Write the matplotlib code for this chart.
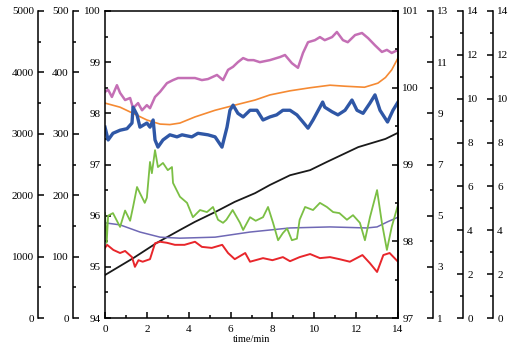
import matplotlib
matplotlib.use("Agg")
import matplotlib.pyplot as plt
from matplotlib.ticker import MultipleLocator

plt.rcParams['font.family'] = ['Liberation Serif', 'DejaVu Serif']
plt.rcParams['font.size'] = 8

# ---- data (time in min, values in main-axis units 94-100) ----
pink_t = [0, 0.15, 0.33, 0.57, 0.72, 0.96, 1.2, 1.34, 1.58, 1.77, 2.0, 2.15, 2.39, 2.63, 2.96, 3.25, 3.49, 3.97, 4.3, 4.63,
          4.92, 5.35, 5.64, 5.88, 6.12, 6.35, 6.6, 6.83, 7.1, 7.4, 7.88, 8.36, 8.6, 8.93, 9.22, 9.46, 9.7, 10.03, 10.27, 10.5,
          10.85, 11.08, 11.37, 11.6, 11.95, 12.28, 12.57, 12.9, 13.23, 13.47, 13.7, 14]
pink_v = [98.42, 98.46, 98.32, 98.55, 98.40, 98.26, 98.30, 98.10, 98.20, 98.06, 98.16, 98.10, 98.32, 98.42, 98.59, 98.65, 98.69, 98.69, 98.69, 98.65,
          98.67, 98.75, 98.65, 98.85, 98.91, 99.00, 99.08, 99.04, 99.04, 99.00, 99.04, 99.10, 99.14, 98.98, 98.89, 99.18, 99.39, 99.43, 99.49, 99.43,
          99.49, 99.59, 99.43, 99.39, 99.53, 99.57, 99.47, 99.33, 99.20, 99.24, 99.18, 99.24]

blue_t = [0, 0.15, 0.38, 0.72, 1.05, 1.29, 1.34, 1.53, 1.67, 2.0, 2.15, 2.3, 2.39, 2.53, 2.77, 3.1, 3.44, 3.68, 4.15, 4.44,
          4.92, 5.26, 5.59, 5.83, 5.97, 6.12, 6.35, 6.6, 6.93, 7.26, 7.55, 7.88, 8.2, 8.5, 8.84, 9.17, 9.46, 9.7, 9.94, 10.27,
          10.4, 10.5, 10.85, 11.13, 11.47, 11.8, 12.04, 12.33, 12.66, 12.9, 13.14, 13.5, 13.76, 14]
blue_v = [97.73, 97.48, 97.61, 97.67, 97.70, 97.81, 98.12, 97.97, 97.73, 97.81, 97.73, 97.87, 97.48, 97.34, 97.48, 97.58, 97.54, 97.58, 97.54, 97.61,
          97.58, 97.54, 97.34, 97.73, 98.06, 98.16, 98.00, 97.93, 98.06, 98.06, 97.87, 97.93, 97.97, 98.06, 98.06, 97.97, 97.83, 97.71, 97.87, 98.12,
          98.22, 98.12, 98.03, 97.97, 98.06, 98.26, 98.06, 98.00, 98.20, 98.36, 98.06, 97.83, 98.06, 98.22]

green_t = [0, 0.08, 0.15, 0.38, 0.72, 0.96, 1.2, 1.34, 1.53, 1.67, 1.9, 2.0, 2.15, 2.24, 2.39, 2.53, 2.77, 3.0, 3.2, 3.25,
           3.58, 3.92, 4.2, 4.54, 4.87, 5.16, 5.4, 5.64, 5.8, 6.1, 6.45, 6.6, 6.93, 7.2, 7.55, 7.79, 8.03, 8.27, 8.5, 8.7,
           8.93, 9.17, 9.3, 9.56, 9.94, 10.27, 10.6, 10.9, 11.2, 11.56, 11.85, 12.18, 12.42, 12.66, 13.0, 13.23, 13.47, 13.7, 14]
green_v = [96.05, 95.47, 96.0, 96.05, 95.78, 96.10, 95.90, 96.17, 96.56, 96.44, 96.25, 96.35, 97.05, 96.83, 97.28, 96.95, 97.03, 96.89, 96.95, 96.64,
           96.37, 96.25, 95.97, 96.11, 96.07, 96.17, 95.92, 95.86, 95.92, 96.11, 95.86, 95.72, 95.97, 95.90, 95.97, 96.17, 95.86, 95.52, 95.66, 95.75,
           95.52, 95.55, 95.92, 96.17, 96.11, 96.25, 96.17, 96.07, 96.05, 95.92, 96.01, 95.86, 95.52, 95.97, 96.50, 95.86, 95.33, 95.78, 96.21]

red_t = [0, 0.1, 0.4, 0.72, 0.96, 1.29, 1.43, 1.6, 1.8, 2.15, 2.39, 2.63, 2.96, 3.34, 3.8, 4.3, 4.63, 5.1, 5.6, 5.88,
         6.2, 6.7, 6.93, 7.55, 8.0, 8.5, 8.84, 9.3, 9.8, 10.27, 10.75, 11.2, 11.7, 12.3, 12.66, 13.0, 13.3, 13.6, 14]
red_v = [95.37, 95.43, 95.33, 95.27, 95.31, 95.19, 95.00, 95.13, 95.10, 95.15, 95.46, 95.49, 95.47, 95.43, 95.43, 95.49, 95.39, 95.37, 95.43, 95.27,
         95.15, 95.27, 95.10, 95.17, 95.13, 95.19, 95.11, 95.19, 95.25, 95.17, 95.19, 95.15, 95.10, 95.23, 95.07, 94.90, 95.23, 95.27, 95.10]

black_t = [0, 1.35, 2.48, 3.58, 4.3, 5.26, 6.2, 7.17, 7.88, 8.84, 9.8, 10.6, 12.1, 13.4, 14]
black_v = [94.84, 95.17, 95.47, 95.72, 95.88, 96.07, 96.27, 96.44, 96.60, 96.79, 96.89, 97.05, 97.34, 97.50, 97.62]

orange_t = [0, 0.72, 1.34, 2.0, 2.63, 3.1, 3.58, 4.3, 5.26, 6.2, 7.17, 7.88, 8.84, 9.8, 10.75, 11.47, 12.4, 13.04, 13.4, 13.7, 14]
orange_v = [98.20, 98.12, 98.00, 97.87, 97.79, 97.78, 97.81, 97.93, 98.06, 98.16, 98.26, 98.36, 98.44, 98.50, 98.55, 98.53, 98.51, 98.59, 98.70, 98.85, 99.08]

purple_t = [0, 0.72, 1.67, 2.63, 3.58, 5.26, 6.93, 8.84, 10.75, 12.5, 13.0, 13.5, 14]
purple_v = [95.86, 95.82, 95.68, 95.58, 95.56, 95.58, 95.68, 95.76, 95.78, 95.76, 95.78, 95.88, 95.97]

# ---- figure ----
W, H = 511, 351
fig = plt.figure(figsize=(W / 100, H / 100), dpi=100)
x0, x1, y0, y1 = 105, 398, 11, 318
ax = fig.add_axes([x0 / W, 1 - y1 / H, (x1 - x0) / W, (y1 - y0) / H])

LW = 1.1
def style_ticks(a):
    a.tick_params(axis='y', which='major', direction='in', length=4, width=LW, pad=3)
    a.tick_params(axis='y', which='minor', direction='in', length=2.2, width=LW)

ax.plot(black_t, black_v, color='#1a1a1a', lw=1.3)
ax.plot(purple_t, purple_v, color='#6f68b5', lw=1.1)
ax.plot(orange_t, orange_v, color='#f58a33', lw=1.2)
ax.plot(red_t, red_v, color='#e8262b', lw=1.4)
ax.plot(green_t, green_v, color='#7bbf44', lw=1.3)
ax.plot(pink_t, pink_v, color='#c46fb5', lw=1.8)
ax.plot(blue_t, blue_v, color='#2f57a6', lw=2.4)

ax.set_xlim(0, 14)
ax.set_ylim(94, 100)
ax.xaxis.set_major_locator(MultipleLocator(2))
ax.xaxis.set_minor_locator(MultipleLocator(1))
ax.yaxis.set_major_locator(MultipleLocator(1))
ax.yaxis.set_minor_locator(MultipleLocator(0.5))
ax.tick_params(axis='x', which='major', direction='in', length=4, width=LW, pad=5, top=False)
ax.tick_params(axis='x', which='minor', direction='in', length=2.2, width=LW, top=False)
style_ticks(ax)
ax.tick_params(axis='y', which='both', right=False)
for s in ax.spines.values():
    s.set_linewidth(LW)
ax.set_xlabel('time/min', fontsize=7.5, labelpad=1)

def extra_axis(side, pos, lo, hi, major, minor, offset=0):
    a = ax.twinx()
    a.set_ylim(lo, hi)
    a.yaxis.set_major_locator(MultipleLocator(major, offset=offset))
    a.yaxis.set_minor_locator(MultipleLocator(minor))
    for k, s in a.spines.items():
        s.set_visible(False)
    sp = a.spines[side]
    sp.set_visible(True)
    sp.set_linewidth(LW)
    sp.set_position(('axes', pos))
    a.yaxis.set_ticks_position(side)
    a.yaxis.set_label_position(side)
    style_ticks(a)
    return a

axw = lambda px: (px - x0) / (x1 - x0)
extra_axis('left', axw(73), 0, 500, 100, 50)
extra_axis('left', axw(38), 0, 5000, 1000, 500)
extra_axis('right', 1.0, 97, 101, 1, 0.5)
extra_axis('right', axw(433), 1, 13, 2, 1, offset=1)
extra_axis('right', axw(463), 0, 14, 2, 1)
extra_axis('right', axw(493), 0, 14, 2, 1)

fig.savefig('out.png', dpi=100)
